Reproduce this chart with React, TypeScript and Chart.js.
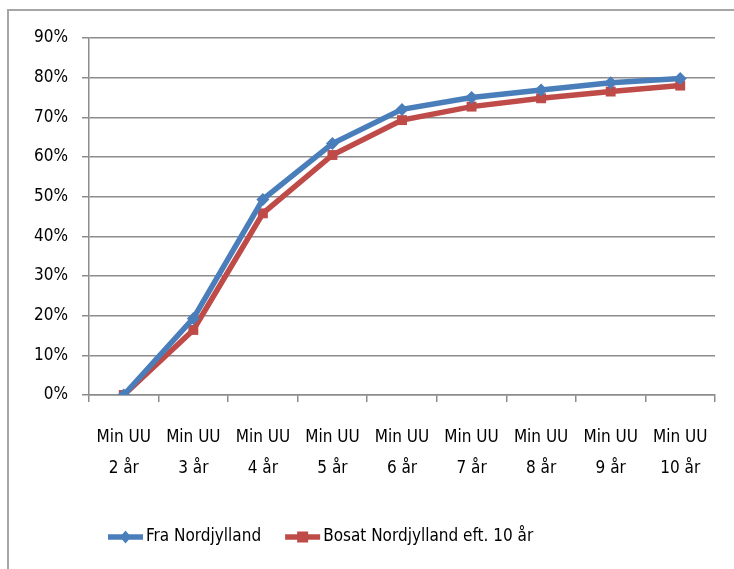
import React, { useEffect, useRef } from "react";
import { Chart, registerables } from "chart.js";

Chart.register(...registerables);

const categoryPrefix = "Min UU";
const categoryYears = ["2 år", "3 år", "4 år", "5 år", "6 år", "7 år", "8 år", "9 år", "10 år"];
const fraNordjylland = [0, 19.3, 49.3, 63.4, 72, 75, 76.9, 78.7, 79.8];
const bosatNordjylland = [0, 16.4, 45.8, 60.5, 69.3, 72.7, 74.8, 76.5, 78];
const seriesNames = ["Fra Nordjylland", "Bosat Nordjylland eft. 10 år"];
const yMax = 90;
const yStep = 10;

const FONT = "'Liberation Sans Narrow', 'DejaVu Sans Condensed', 'Arial Narrow', sans-serif";
const FONT_SIZE = 17;
const BLUE = "#4a7ebb";
const RED = "#be4b48";
const GRID = "#8c8c8c";

const legendPlugin = {
  id: "excelLegend",
  afterDraw(chart: any) {
    const ctx = chart.ctx;
    const y = 537;
    let x = 108;
    ctx.save();
    ctx.font = `${FONT_SIZE}px ${FONT}`;
    ctx.textBaseline = "middle";
    ctx.fillStyle = "#000";
    chart.data.datasets.forEach((ds: any) => {
      const lineLen = 35;
      ctx.strokeStyle = ds.borderColor;
      ctx.lineWidth = 5.5;
      ctx.beginPath();
      ctx.moveTo(x, y);
      ctx.lineTo(x + lineLen, y);
      ctx.stroke();
      ctx.fillStyle = ds.backgroundColor;
      const cx = x + lineLen / 2;
      const r = 5.5;
      ctx.beginPath();
      if (ds.pointStyle === "rectRot") {
        ctx.moveTo(cx, y - r * 1.2);
        ctx.lineTo(cx + r, y);
        ctx.lineTo(cx, y + r * 1.2);
        ctx.lineTo(cx - r, y);
        ctx.closePath();
      } else {
        ctx.rect(cx - r, y - r, r * 2, r * 2);
      }
      ctx.fill();
      ctx.fillStyle = "#000";
      ctx.textAlign = "left";
      ctx.fillText(ds.label, x + lineLen + 3, y);
      x += lineLen + 3 + ctx.measureText(ds.label).width + 24;
    });
    ctx.restore();
  },
};

export default function App() {
  const ref = useRef<HTMLCanvasElement | null>(null);

  useEffect(() => {
    if (!ref.current) return;
    const labels = categoryYears.map((y) => [categoryPrefix, y]);
    const chart = new Chart(ref.current, {
      type: "line",
      data: {
        labels,
        datasets: [
          {
            label: seriesNames[0],
            data: fraNordjylland,
            borderColor: BLUE,
            backgroundColor: BLUE,
            borderWidth: 5.5,
            pointStyle: "rectRot",
            pointRadius: 6.5,
            pointBorderWidth: 0,
            tension: 0,
          },
          {
            label: seriesNames[1],
            data: bosatNordjylland,
            borderColor: RED,
            backgroundColor: RED,
            borderWidth: 5.5,
            pointStyle: "rect",
            pointRadius: 7,
            pointBorderWidth: 0,
            tension: 0,
          },
        ],
      },
      options: {
        responsive: false,
        animation: false,
        devicePixelRatio: 1,
        layout: { padding: { top: 38, right: 19, bottom: 0, left: 0 } },
        plugins: {
          legend: { display: false },
          tooltip: { enabled: false },
        },
        scales: {
          x: {
            offset: true,
            grid: {
              offset: true,
              drawOnChartArea: false,
              drawTicks: true,
              tickLength: 7,
              color: GRID,
              lineWidth: 1.5,
            },
            border: { color: GRID, width: 1.5 },
            ticks: {
              color: "#000",
              font: { family: FONT, size: FONT_SIZE, lineHeight: 1.82 },
              padding: 20,
              maxRotation: 0,
              autoSkip: false,
            },
            afterFit: (scale: any) => {
              scale.height = 174;
            },
          },
          y: {
            min: 0,
            max: yMax,
            ticks: {
              stepSize: yStep,
              color: "#000",
              font: { family: FONT, size: FONT_SIZE },
              padding: 14,
              callback: (v: any) => `${v}%`,
            },
            grid: {
              color: GRID,
              lineWidth: 1.5,
              tickLength: 7,
            },
            border: { color: GRID, width: 1.5 },
            afterFit: (scale: any) => {
              scale.width = 89;
            },
          },
        },
      },
      plugins: [legendPlugin],
    });
    return () => chart.destroy();
  }, []);

  return (
    <div
      style={{
        position: "fixed",
        left: 0,
        top: 0,
        width: 734,
        height: 569,
        overflow: "hidden",
        background: "#fff",
      }}
    >
      <div
        style={{
          position: "absolute",
          left: 7,
          top: 9,
          width: 740,
          height: 580,
          border: "2px solid #a6a6a6",
          boxSizing: "border-box",
        }}
      />
      <canvas
        ref={ref}
        width={734}
        height={569}
        style={{ position: "absolute", left: 0, top: 0, width: 734, height: 569 }}
      />
    </div>
  );
}
